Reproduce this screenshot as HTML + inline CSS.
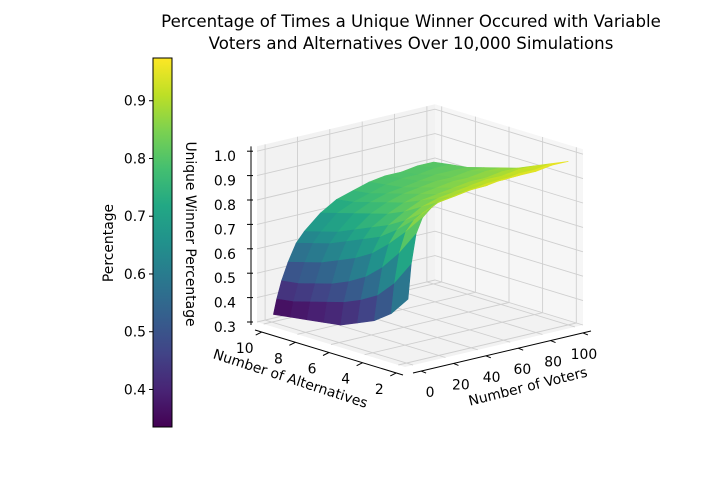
<!DOCTYPE html>
<html><head><meta charset="utf-8">
<style>
html,body{margin:0;padding:0;background:#fff;}
svg{display:block;font-family:"DejaVu Sans","Liberation Sans",sans-serif;}
</style></head>
<body>
<svg id="chart" width="711" height="480" viewBox="0 0 711 480">
<defs>
<linearGradient id="vir" x1="0" y1="1" x2="0" y2="0">
<stop offset="0" stop-color="#440154"/><stop offset="0.1" stop-color="#482475"/><stop offset="0.2" stop-color="#414487"/>
<stop offset="0.3" stop-color="#355f8d"/><stop offset="0.4" stop-color="#2a788e"/><stop offset="0.5" stop-color="#21918c"/>
<stop offset="0.6" stop-color="#22a884"/><stop offset="0.7" stop-color="#44bf70"/><stop offset="0.8" stop-color="#7ad151"/>
<stop offset="0.9" stop-color="#bddf26"/><stop offset="1" stop-color="#fde725"/>
</linearGradient>
</defs>
<text x="411" y="27" font-size="16.6" text-anchor="middle">Percentage of Times a Unique Winner Occured with Variable</text>
<text x="411" y="49" font-size="16.6" text-anchor="middle">Voters and Alternatives Over 10,000 Simulations</text>
<g id="panes"></g>
<g id="surface"></g>
<g id="axes"></g>
<g id="colorbar"></g>
</svg>
<script>
const voters = [1,3,6,10,15,20,30,40,50,60,70,80,90,100];
const alternatives = [2,3,4,5,6,7,8,9,10];
const pct_alt2  = [.56,.70,.82,.88,.91,.93,.94,.95,.95,.96,.96,.96,.97,.97];
const pct_alt3  = [.48,.60,.72,.80,.84,.86,.89,.90,.91,.92,.92,.93,.93,.94];
const pct_alt4  = [.43,.53,.64,.73,.78,.81,.85,.87,.88,.89,.90,.90,.91,.91];
const pct_alt5  = [.40,.49,.58,.67,.73,.77,.81,.84,.85,.86,.87,.87,.88,.88];
const pct_alt6  = [.37,.46,.54,.63,.70,.74,.78,.81,.83,.84,.85,.85,.86,.86];
const pct_alt7  = [.36,.44,.51,.60,.67,.71,.76,.79,.81,.82,.83,.83,.84,.84];
const pct_alt8  = [.35,.42,.49,.57,.64,.68,.74,.77,.79,.80,.81,.82,.82,.82];
const pct_alt9  = [.34,.40,.47,.55,.62,.66,.72,.75,.77,.79,.80,.80,.81,.81];
const pct_alt10 = [.33,.39,.46,.53,.60,.64,.70,.74,.76,.78,.79,.79,.80,.80];
const rows = [pct_alt2,pct_alt3,pct_alt4,pct_alt5,pct_alt6,pct_alt7,pct_alt8,pct_alt9,pct_alt10];
const voterTicks = [0,20,40,60,80,100];
const altTicks = [2,4,6,8,10];
const zTicks = [0.3,0.4,0.5,0.6,0.7,0.8,0.9,1.0];
const cbTicks = [0.4,0.5,0.6,0.7,0.8,0.9];

const NS='http://www.w3.org/2000/svg';
const ZF=0.30, ZT=1.02, CMIN=0.335, CMAX=0.974;
const FS=13.9;
function fv(v){return (v+5)/110;}
function fa(a){return (a-1.6)/8.8;}
function P(v,a,z){const u=fv(v),w=fa(a);return [405+178*u-148*w, 367-42*u-45*w-244*(z-ZF)];}
function PF(u,w,z){return [405+178*u-148*w, 367-42*u-45*w-244*(z-ZF)];}
function mk(tag,attrs,parent){const e=document.createElementNS(NS,tag);for(const k in attrs)e.setAttribute(k,attrs[k]);parent.appendChild(e);return e;}
function pts(a){return a.map(p=>p[0].toFixed(1)+','+p[1].toFixed(1)).join(' ');}
const stops=['#440154','#482475','#414487','#355f8d','#2a788e','#21918c','#22a884','#44bf70','#7ad151','#bddf26','#fde725'];
function hx(c){return [parseInt(c.slice(1,3),16),parseInt(c.slice(3,5),16),parseInt(c.slice(5,7),16)];}
function vir(t){t=Math.max(0,Math.min(1,t));const s=t*10,i=Math.min(9,Math.floor(s)),f=s-i;const a=hx(stops[i]),b=hx(stops[i+1]);return 'rgb('+a.map((x,k)=>Math.round(x+(b[k]-x)*f)).join(',')+')';}

const pn=document.getElementById('panes');
let e;
e=mk('polygon',{points:pts([PF(0,0,ZF),PF(1,0,ZF),PF(1,1,ZF),PF(0,1,ZF)]),fill:'#f2f2f2'},pn);

e=mk('polygon',{points:pts([PF(0,1,ZF),PF(1,1,ZF),PF(1,1,ZT),PF(0,1,ZT)]),fill:'#f2f2f2'},pn);

e=mk('polygon',{points:pts([PF(1,0,ZF),PF(1,1,ZF),PF(1,1,ZT),PF(1,0,ZT)]),fill:'#f6f6f6'},pn);

const gs={stroke:'#cfcfcf','stroke-width':0.9,fill:'none'};
voterTicks.forEach(v=>{const u=fv(v);
 e=mk('polyline',Object.assign({points:pts([PF(u,0,ZF),PF(u,1,ZF),PF(u,1,ZT)])},gs),pn);
 });
altTicks.forEach(a=>{const w=fa(a);
 e=mk('polyline',Object.assign({points:pts([PF(0,w,ZF),PF(1,w,ZF),PF(1,w,ZT)])},gs),pn);
 });
zTicks.forEach(z=>{
 e=mk('polyline',Object.assign({points:pts([PF(0,1,z),PF(1,1,z),PF(1,0,z)])},gs),pn);
 });

const sf=document.getElementById('surface');
const quads=[];
for(let j=0;j<alternatives.length-1;j++)for(let i=0;i<voters.length-1;i++){
 const z1=rows[j][i],z2=rows[j][i+1],z3=rows[j+1][i+1],z4=rows[j+1][i];
 const p=[P(voters[i],alternatives[j],z1),P(voters[i+1],alternatives[j],z2),P(voters[i+1],alternatives[j+1],z3),P(voters[i],alternatives[j+1],z4)];
 const depth=fv((voters[i]+voters[i+1])/2)+fa((alternatives[j]+alternatives[j+1])/2);
 quads.push({p,depth,z:(z1+z2+z3+z4)/4});
}
quads.sort((a,b)=>b.depth-a.depth);
quads.forEach(q=>{const c=vir((q.z-CMIN)/(CMAX-CMIN));
 const el=mk('polygon',{points:pts(q.p),fill:c,stroke:c,'stroke-width':0.6,'stroke-linejoin':'round'},sf);
 
 });

const ax=document.getElementById('axes');
const A=(tag,at,name)=>{const el=mk(tag,at,ax);return el;};
const zx=251;
A('line',{x1:zx,y1:PF(0,1,ZF)[1]+3,x2:zx,y2:PF(0,1,ZT)[1],stroke:'#000','stroke-width':1},'z-axis-line');
zTicks.forEach(z=>{const y=PF(0,1,z)[1];
 A('line',{x1:zx-4,y1:y,x2:zx+2,y2:y,stroke:'#000','stroke-width':1},'z-tick');
 const t=A('text',{x:236,y:y+10,'font-size':FS,'text-anchor':'end'},'z-tick-label');t.textContent=z.toFixed(1);});
const aOff=[-6,8];
const a0=PF(0,0,ZF),a1=PF(0,1,ZF);
A('line',{x1:a0[0]+aOff[0]+4,y1:a0[1]+aOff[1],x2:a1[0]+aOff[0]+4,y2:a1[1]+aOff[1],stroke:'#000','stroke-width':1},'alternatives-axis-line');
altTicks.forEach(a=>{const w=fa(a);const p=PF(0,w,ZF);
 A('line',{x1:p[0]+aOff[0]+4,y1:p[1]+aOff[1],x2:p[0]+aOff[0]-2,y2:p[1]+aOff[1]+3,stroke:'#000','stroke-width':1},'alternatives-tick');
 const t=A('text',{x:p[0]-19,y:p[1]+29,'font-size':FS,'text-anchor':'middle'},'alternatives-tick-label');t.textContent=a;});
const vOff=[8,6];
const v0=PF(0,0,ZF),v1=PF(1,0,ZF);
A('line',{x1:v0[0]+vOff[0],y1:v0[1]+vOff[1],x2:v1[0]+vOff[0],y2:v1[1]+vOff[1],stroke:'#000','stroke-width':1},'voters-axis-line');
voterTicks.forEach(v=>{const p=PF(fv(v),0,ZF);
 A('line',{x1:p[0]+vOff[0],y1:p[1]+vOff[1],x2:p[0]+vOff[0]+5,y2:p[1]+vOff[1]+2,stroke:'#000','stroke-width':1},'voters-tick');
 const t=A('text',{x:p[0]+17-v*0.08,y:p[1]+32,'font-size':FS,'text-anchor':'middle'},'voters-tick-label');t.textContent=v;});
let t;
t=A('text',{x:0,y:0,'font-size':FS,'text-anchor':'middle',transform:'translate(289,383) rotate(18)'},'alternatives-axis-title');t.textContent='Number of Alternatives';
t=A('text',{x:0,y:0,'font-size':FS,'text-anchor':'middle',transform:'translate(529,391) rotate(-14)'},'voters-axis-title');t.textContent='Number of Voters';
t=A('text',{x:0,y:0,'font-size':FS,'text-anchor':'middle',transform:'translate(186,234) rotate(90)'},'z-axis-title');t.textContent='Unique Winner Percentage';

const cb=document.getElementById('colorbar');
const CT=58,CB=427,CX=153,CW=19;
const cy=v=>CB-(v-CMIN)/(CMAX-CMIN)*(CB-CT);
e=mk('rect',{x:CX,y:CT,width:CW,height:CB-CT,fill:'url(#vir)',stroke:'#000','stroke-width':1},cb);

cbTicks.forEach(v=>{const y=cy(v);
 const l=mk('line',{x1:CX-4,y1:y,x2:CX,y2:y,stroke:'#000','stroke-width':1},cb);
 
 const tt=mk('text',{x:CX-7,y:y+5,'font-size':FS,'text-anchor':'end'},cb);
 tt.textContent=v.toFixed(1);});
e=mk('text',{x:0,y:0,'font-size':FS,'text-anchor':'middle',transform:'translate(113,243) rotate(-90)'},cb);
e.textContent='Percentage';
</script>
</body></html>
